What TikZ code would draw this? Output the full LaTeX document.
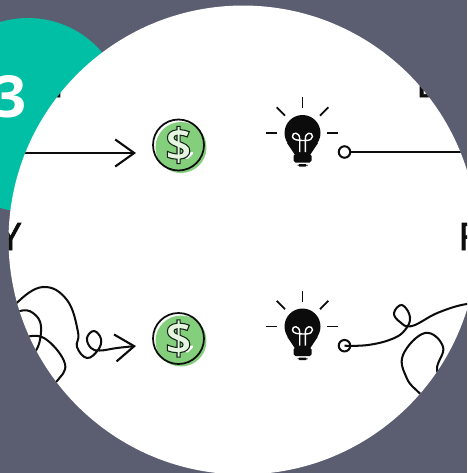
\documentclass[tikz,border=0pt]{standalone}
\usepackage{fontspec}
\setmainfont{Open Sans}
\usetikzlibrary{arrows.meta,positioning,calc,shapes.geometric}
\definecolor{slatebg}{RGB}{90,94,112}
\definecolor{badgeteal}{RGB}{0,191,165}
\definecolor{coingreen}{RGB}{132,207,124}
\definecolor{inkblack}{RGB}{12,12,12}
\newcommand{\outlined}[1]{\special{pdf:code q 2 Tr 0.6 w 0.08 0.14 0.1 RG 0.9 0.96 0.88 rg}#1\special{pdf:code Q}}
\newcommand{\heavier}[1]{\special{pdf:code q 2 Tr 0.4 w 0.05 0.05 0.05 RG 0.05 0.05 0.05 rg}#1\special{pdf:code Q}}
\tikzset{
  badge/.style={circle, fill=badgeteal, minimum size=3.88cm, inner sep=0pt},
  disc/.style={circle, fill=white, minimum size=9.38cm, inner sep=0pt},
  badgetext/.style={font=\fontsize{33}{33}\selectfont\bfseries, text=white, inner sep=0pt, anchor=base},
  lettertext/.style={font=\fontsize{21.5}{21.5}\selectfont, text=inkblack, inner sep=0pt},
  wire/.style={line width=1.15pt, draw=inkblack},
  arr/.style={wire, -{Straight Barb[length=10.8pt,width=15.4pt,line width=1.2pt]}},
  dot/.style={circle, draw=inkblack, fill=white, line width=1.15pt, minimum size=0.23cm, inner sep=0pt},
  coinring/.style={circle, draw=inkblack, line width=1pt, minimum size=1.02cm, inner sep=0pt},
  coinfill/.style={circle, fill=coingreen, minimum size=1.02cm, inner sep=0pt},
  cointext/.style={font=\fontsize{26}{26}\selectfont\bfseries, inner sep=0pt},
  ray/.style={line width=1.05pt, draw=inkblack},
  glow/.style={line width=0.8pt, draw=white},
}
\begin{document}
\begin{tikzpicture}[x=0.02cm,y=-0.02cm]
  \useasboundingbox (0,0) rectangle (467,473);
  \clip (0,0) rectangle (467,473);
  \fill[slatebg] (0,0) rectangle (467,473);
  \node[badge] (badge) at (28,115) {};
  \node[badgetext] (three) at (10,117) {3};
  \node[disc] (disc) at (243,240) {};
  \begin{scope}
    \clip (disc.center) circle (4.69cm);
    \node[lettertext,anchor=base east] (lettern) at (64,97) {\heavier{N}};
    \node[lettertext,anchor=base west] (letterd) at (416,97) {\heavier{D}};
    \node[lettertext,anchor=base] (lettery) at (10.5,250) {\heavier{Y}};
    \node[lettertext,anchor=base west] (letterf) at (458,250) {\heavier{F}};
    \foreach \r/\d in {a/0,b/193.5}{
      \begin{scope}[yshift=-\d*0.02cm]
        \node[coinfill] (fill\r) at (181,147.5) {};
        \node[coinring] (coin\r) at (178.5,145) {};
        \draw[line width=1.5pt,white,line cap=round] (187,158) -- (192,153);
        \node[cointext] (dollar\r) at (178.5,145) {\outlined{\$}};
        % bulb head, neck and cap
        \fill[inkblack] (302.5,133) circle (18);
        \fill[inkblack] (287,143) -- (318,143) -- (310,155) -- (295,155) -- cycle;
        \fill[inkblack,rounded corners=1pt] (293.5,154) rectangle (311.5,162.5);
        \fill[inkblack,rounded corners=1pt] (297.5,164) rectangle (307.5,166.5);
        \draw[glow] (299.7,152) -- (299.7,139) .. controls (299.7,131.5) and (292,132) .. (292.5,136.5) .. controls (293,140) and (297,140.5) .. (305.3,140.5) .. controls (310,140.5) and (312.5,139) .. (312.5,136.5) .. controls (312.5,132) and (305.3,131.5) .. (305.3,139) -- (305.3,152);
        % rays
        \coordinate (raya\r) at (302.5,97);
        \coordinate (rayb\r) at (302.5,108);
        \draw[ray] (raya\r) -- (rayb\r);
        \draw[ray] (276.7,107.3) -- (285,115.7);
        \draw[ray] (328.3,107.3) -- (320,115.7);
        \draw[ray] (266.3,133) -- (277.3,133);
        \draw[ray] (327.3,133) -- (338.3,133);
      \end{scope}
    }
    % straight route
    \coordinate (starta) at (15,153);
    \coordinate (tipa) at (136,153);
    \coordinate (enda) at (480,152);
    \draw[arr] (starta) -- (tipa);
    \node[dot] (dota) at (344.5,152) {};
    \draw[wire] (dota) -- (enda);
    % winding route
    \coordinate (startb) at (48,388);
    \coordinate (tipb) at (136,346);
    \coordinate (endb) at (425,397);
    \draw[arr] plot[smooth,tension=0.7] coordinates {(startb) (57,381) (65,364) (47,340) (28,336.5) (10,345) (15,362) (35,352) (41,327) (33,313) (20,311) (8,320) (16.7,303) (43,287) (67,300) (78,332) (77,347) (87,358) (98,350) (101,339) (94,331) (87,338) (91,348) (100,350.5) (117,348) (tipb)};
    \node[dot] (dotb) at (344.5,345.7) {};
    \draw[wire] plot[smooth,tension=0.7] coordinates {(dotb) (368,345) (392,339) (405,330) (410,317) (402,305) (394,313) (400,322) (412,326) (438,312.7) (467,304) (485,306) (495,340) (470,385) (445,385) (437,369) (443,346.7) (425,333) (403,355) (406.7,378) (418,391.7) (endb)};
  \end{scope}
\end{tikzpicture}
\end{document}
